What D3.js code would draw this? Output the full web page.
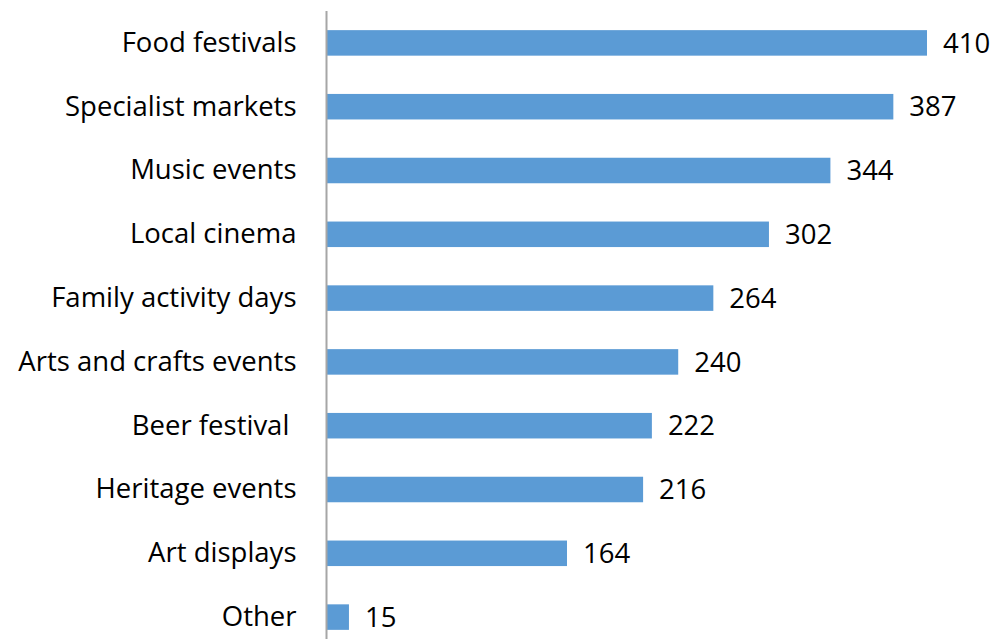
<!DOCTYPE html>
<html>
<head>
<meta charset="utf-8">
<script src="https://cdn.jsdelivr.net/npm/d3@7/dist/d3.min.js"></script>
<style>
  html, body { margin: 0; padding: 0; background: #fff; }
  svg { display: block; }
  text { font-family: "Open Sans", sans-serif; fill: #000; white-space: pre; }
</style>
</head>
<body>
<div id="chart"></div>
<script>
// Number of attendees / votes per event type
const categories = [
  "Food festivals", "Specialist markets", "Music events", "Local cinema",
  "Family activity days", "Arts and crafts events", "Beer festival ",
  "Heritage events", "Art displays", "Other"
];
const values = [410, 387, 344, 302, 264, 240, 222, 216, 164, 15];

const W = 995, H = 639;
const axisX = 326.5;
const fontSize = 27.5;
const svg = d3.select("#chart").append("svg")
  .attr("width", W).attr("height", H);

const x = d3.scaleLinear().domain([0, 410]).range([axisX + 0.5, 927]);
const y = d3.scaleBand().domain(categories)
  .range([11, 649]).paddingInner(0.6).paddingOuter(0.3);

const rows = categories.map((c, i) => ({ c, v: values[i] }));

// bars
svg.selectAll("rect.bar").data(rows).join("rect")
  .attr("class", "bar")
  .attr("x", x(0))
  .attr("y", d => y(d.c))
  .attr("width", d => x(d.v) - x(0))
  .attr("height", y.bandwidth())
  .attr("fill", "#5B9BD5");

// category axis
const yAxis = d3.axisLeft(y).tickSize(0).tickPadding(30);
const g = svg.append("g").attr("transform", `translate(${axisX},0)`).call(yAxis);
g.select(".domain").attr("stroke", "#A6A6A6").attr("stroke-width", 2)
  .attr("d", `M0,11V${H}`);
g.selectAll(".tick text")
  .style("font-family", "'Open Sans', sans-serif")
  .style("white-space", "pre")
  .attr("font-size", fontSize).attr("fill", "#000");

// value labels
svg.selectAll("text.val").data(rows).join("text")
  .attr("class", "val")
  .attr("x", d => x(d.v) + 16)
  .attr("y", d => y(d.c) + y.bandwidth() / 2)
  .attr("dy", "0.35em")
  .attr("font-size", fontSize)
  .text(d => d.v);
</script>
</body>
</html>
